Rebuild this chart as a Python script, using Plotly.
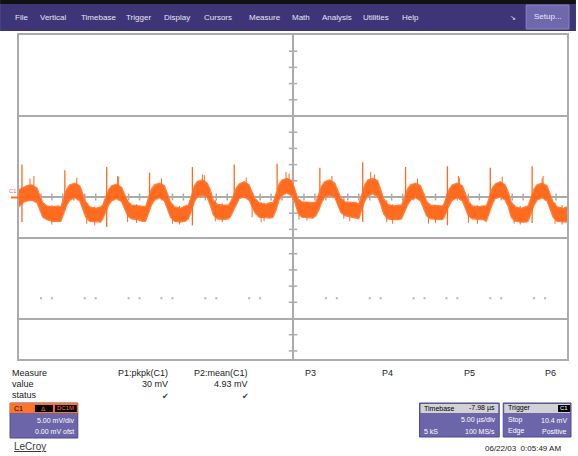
import plotly.graph_objects as go

# ---------------- data ----------------
# time axis in microseconds (5 us/div, 10 div), voltage in mV (5 mV/div, 8 div)
time_us = [-25.00,
    -24.55, -24.27, -23.82, -23.36, -23.09, -22.82, -22.45, -21.91, -21.45,
    -21.18, -20.91, -20.64, -20.36, -19.91, -19.45, -19.18, -18.91, -18.55, -18.00, -17.55,
    -17.36, -17.09, -16.82, -16.55, -16.09, -15.64, -15.36, -15.09, -14.73, -14.18, -13.73,
    -13.45, -13.18, -12.91, -12.64, -12.18, -11.73, -11.45, -11.18, -10.82, -10.27, -9.82,
    -9.55, -9.27, -9.00, -8.73, -8.27, -7.82, -7.55, -7.27, -6.91, -6.36, -5.91,
    -5.73, -5.45, -5.18, -4.91, -4.45, -4.00, -3.73, -3.45, -3.09, -2.55, -2.09,
    -1.82, -1.55, -1.27, -1.00, -0.55, -0.09, 0.18, 0.45, 0.82, 1.36, 1.82,
    2.09, 2.36, 2.64, 2.91, 3.36, 3.82, 4.09, 4.36, 4.73, 5.27, 5.73,
    6.00, 6.27, 6.55, 6.82, 7.27, 7.73, 8.00, 8.27, 8.64, 9.18, 9.64,
    9.91, 10.18, 10.45, 10.73, 11.18, 11.64, 11.91, 12.18, 12.55, 13.09, 13.55,
    13.73, 14.00, 14.27, 14.55, 15.00, 15.45, 15.73, 16.00, 16.36, 16.91, 17.36,
    17.64, 17.91, 18.18, 18.45, 18.91, 19.36, 19.64, 19.91, 20.27, 20.82, 21.27,
    21.45, 21.73, 22.00, 22.27, 22.73, 23.18, 23.45, 23.73, 24.09, 24.64, 25.00]

upper_mv = [0.9,
    1.2, 1.4, 1.5, 1.1, 0.2, -0.7, -1.1, -1.2, -1.1,
    -1.2, -0.1, 1.0, 1.5, 1.7, 1.4, 0.5, -0.6, -1.2, -1.4, -1.2,
    -1.0, 0.0, 0.9, 1.4, 1.6, 1.2, 0.4, -0.5, -1.0, -1.1, -1.1,
    -1.2, -0.1, 1.0, 1.5, 1.7, 1.4, 0.5, -0.6, -1.2, -1.4, -1.1,
    -1.0, 0.1, 1.4, 1.9, 2.1, 1.7, 0.9, -0.4, -0.9, -1.0, -1.0,
    -0.7, 0.1, 1.1, 1.6, 1.9, 1.5, 0.6, -0.2, -0.7, -0.9, -0.7,
    -0.7, 0.4, 1.6, 2.1, 2.3, 2.0, 1.0, -0.2, -0.6, -0.7, -0.7,
    -0.6, 0.4, 1.4, 1.9, 2.1, 1.7, 0.9, -0.1, -0.6, -0.7, -0.7,
    -0.9, 0.2, 1.5, 2.1, 2.3, 2.0, 1.0, -0.2, -0.9, -1.1, -1.0,
    -1.0, 0.0, 1.0, 1.5, 1.7, 1.4, 0.5, -0.5, -1.0, -1.1, -1.1,
    -1.0, 0.0, 1.0, 1.5, 1.7, 1.4, 0.5, -0.5, -1.1, -1.2, -1.1,
    -1.1, -0.1, 1.1, 1.6, 1.9, 1.5, 0.6, -0.6, -1.2, -1.4, -1.2,
    -1.1, 0.0, 1.0, 1.5, 1.7, 1.4, 0.5, -0.6, -1.2, -1.4, -1.2]

lower_mv = [-1.2,
    -0.6, -0.5, -0.4, -0.7, -1.6, -2.5, -2.8, -3.0, -3.0,
    -3.0, -2.0, -1.0, -0.4, -0.1, -0.5, -1.4, -2.5, -3.0, -3.1, -3.1,
    -2.7, -1.9, -1.0, -0.5, -0.2, -0.6, -1.5, -2.3, -2.7, -2.8, -3.0,
    -3.0, -2.0, -1.0, -0.4, -0.1, -0.5, -1.4, -2.5, -3.0, -3.1, -3.0,
    -2.7, -1.7, -0.6, 0.0, 0.2, -0.1, -1.0, -2.2, -2.7, -2.8, -2.7,
    -2.5, -1.7, -0.9, -0.2, 0.0, -0.4, -1.2, -2.0, -2.5, -2.6, -2.6,
    -2.5, -1.6, -0.4, 0.2, 0.5, 0.1, -0.7, -2.0, -2.5, -2.6, -2.6,
    -2.3, -1.6, -0.6, 0.0, 0.2, -0.1, -1.0, -1.9, -2.3, -2.5, -2.6,
    -2.7, -1.6, -0.5, 0.1, 0.4, 0.0, -0.9, -2.1, -2.7, -2.8, -2.8,
    -2.7, -1.9, -1.0, -0.4, -0.1, -0.5, -1.4, -2.3, -2.7, -2.8, -2.8,
    -2.7, -1.9, -1.0, -0.4, -0.1, -0.5, -1.4, -2.3, -2.7, -2.8, -2.8,
    -3.0, -2.0, -0.9, -0.2, 0.0, -0.4, -1.2, -2.5, -3.0, -3.1, -3.1,
    -3.0, -1.9, -1.0, -0.4, -0.1, -0.5, -1.4, -2.5, -3.0, -3.1, -3.1]

# switching spikes (one per cycle)
spike_t = [-24.73, -20.82, -17.00, -13.09, -9.18, -5.36, -1.45, 2.45, 6.36, 10.27, 14.09, 18.00, 21.82]
spike_hi = [4.0, 3.3, 3.7, 3.0, 3.7, 4.0, 4.1, 3.6, 4.3, 3.7, 3.8, 3.6, 3.8]
spike_lo = [-3.1, -1.6, -3.7, -0.5, -3.5, -1.2, 0.9, 0.5, -3.1, -1.2, -3.5, -0.4, -3.2]

# smaller noise glitches
glitch_t = [-18.82, -15.09, -11.00, -7.09, -3.73, -2.91, 0.55, 4.64, 8.55, 12.36, 16.00, 20.18, 23.91,
            -24.00, -16.00, -8.27, -0.64, 7.09, 15.09, 22.82,
            -23.64, -19.73, -15.91, -12.00, -8.09, -4.27, -0.36, 3.55, 7.45, 11.36, 15.18, 19.09, 22.73,
            -22.00, -18.09, -14.27, -10.36, -6.45, -2.64, 1.27, 5.18, 9.09, 13.00, 16.82, 20.73, 24.55]
glitch_hi = [-0.7, -0.4, -0.9, -0.4, 0.5, -0.7, -0.4, -0.1, -0.4, -1.0, -0.6, -1.0, -0.7,
             2.3, 2.6, 2.8, 3.1, 3.1, 2.6, 2.6,
             2.6, 2.4, 2.5, 2.3, 2.7, 2.4, 2.9, 2.6, 2.8, 2.3, 2.4, 2.5, 2.3,
             -1.0, -1.2, -0.9, -1.1, -0.8, -0.7, -0.6, -0.7, -0.9, -1.0, -1.0, -1.1, -1.0]
glitch_lo = [-3.3, -3.1, -3.3, -3.0, -2.5, -3.1, -2.8, -2.7, -3.1, -3.3, -3.2, -3.3, -3.3,
             0.9, 1.1, 1.4, 1.6, 1.6, 1.1, 1.1,
             1.0, 1.2, 1.0, 1.3, 1.5, 1.2, 1.5, 1.3, 1.6, 1.1, 1.2, 1.3, 1.2,
             -3.4, -3.5, -3.2, -3.4, -3.1, -3.0, -2.9, -3.0, -3.3, -3.2, -3.3, -3.4, -3.4]

# faint dotted reference row
dot_t = [-23, -22, -19, -18, -15, -14, -12, -11, -8, -7, -4, -3, 3, 4, 7, 8, 11, 12, 14, 15, 18, 19, 22, 23]
dot_level_mv = -12.5

# graticule
grid_mv = [10, 0, -5, -15]
vtick_mv = [18, 16, 14, 12, 8, 6, 4, 2, -2, -4, -7, -9, -11, -13, -17, -19]
htick_us = [v for v in range(-24, 25) if v != 0]
trigger_t = -19.9

menu_items = ["File", "Vertical", "Timebase", "Trigger", "Display", "Cursors",
              "Measure", "Math", "Analysis", "Utilities", "Help"]
meas_rows = ["Measure", "value", "status"]
meas_params = ["P1:pkpk(C1)", "P2:mean(C1)", "P3", "P4", "P5", "P6"]
meas_values = ["30 mV", "4.93 mV"]

# ---------------- layout helpers ----------------
W, H = 578, 456
L, R, T, B = 19, 569, 35, 359


def X(px):
    return (px - L) / (R - L)


def Y(py):
    return (B - py) / (B - T)


ORANGE = "#FF6A1C"
PURPLE = "#3D3577"
BOXP = "#6D65A9"
GRID = "#ABABAB"

fig = go.Figure()

# graticule ticks on centre lines
fig.add_trace(go.Scatter(x=[0] * len(vtick_mv), y=vtick_mv, mode="markers",
                         marker=dict(symbol="line-ew", size=6, line=dict(color=GRID, width=1.5)),
                         hoverinfo="skip", showlegend=False))
fig.add_trace(go.Scatter(x=htick_us, y=[0] * len(htick_us), mode="markers",
                         marker=dict(symbol="line-ns", size=5, line=dict(color=GRID, width=1.5)),
                         hoverinfo="skip", showlegend=False))
fig.add_trace(go.Scatter(x=dot_t, y=[dot_level_mv] * len(dot_t), mode="markers",
                         marker=dict(symbol="square", size=2, color="#B5B5B5"),
                         hoverinfo="skip", showlegend=False))

# trace envelope
fig.add_trace(go.Scatter(x=time_us, y=lower_mv, mode="lines",
                         line=dict(color="#FF8040", width=1.2),
                         hoverinfo="skip", showlegend=False))
fig.add_trace(go.Scatter(x=time_us, y=upper_mv, mode="lines", fill="tonexty",
                         fillcolor="rgba(255,100,20,0.95)",
                         line=dict(color="#FF8040", width=1.2),
                         hoverinfo="skip", showlegend=False))

sx, sy = [], []
for t, hi, lo in zip(spike_t, spike_hi, spike_lo):
    sx += [t, t, None]
    sy += [hi, lo, None]
fig.add_trace(go.Scatter(x=sx, y=sy, mode="lines", line=dict(color=ORANGE, width=1.3),
                         hoverinfo="skip", showlegend=False))
gx, gy = [], []
for t, hi, lo in zip(glitch_t, glitch_hi, glitch_lo):
    gx += [t, t, None]
    gy += [hi, lo, None]
fig.add_trace(go.Scatter(x=gx, y=gy, mode="lines", line=dict(color=ORANGE, width=1),
                         hoverinfo="skip", showlegend=False))

# trigger marker below the grid
fig.add_trace(go.Scatter(x=[trigger_t], y=[-20.6], mode="markers", cliponaxis=False,
                         marker=dict(symbol="triangle-up", size=6, color="#FF7A30"),
                         hoverinfo="skip", showlegend=False))

shapes = []
annos = []

# menu bar
shapes.append(dict(type="rect", xref="paper", yref="paper", x0=X(0), x1=X(578), y0=Y(4), y1=Y(0),
                   fillcolor="#111111", line=dict(width=0), layer="above"))
shapes.append(dict(type="rect", xref="paper", yref="paper", x0=X(0), x1=X(578), y0=Y(31), y1=Y(4),
                   fillcolor=PURPLE, line=dict(width=0), layer="above"))
shapes.append(dict(type="rect", xref="paper", yref="paper", x0=X(528), x1=X(571), y0=Y(29), y1=Y(5),
                   fillcolor="#6F68AC", line=dict(color="#8A84C0", width=1), layer="above"))
menu_x = [13, 38, 79, 124, 163, 203, 248, 291, 321, 362, 401]
for lab, px in zip(menu_items, menu_x):
    annos.append(dict(x=X(px), y=Y(18), xref="paper", yref="paper", text=lab, showarrow=False,
                      xanchor="left", yanchor="middle",
                      font=dict(family="Liberation Sans, Arial", size=8, color="#E8E6F4")))
annos.append(dict(x=X(515), y=Y(18), xref="paper", yref="paper", text="↘", showarrow=False,
                  xanchor="center",
                  font=dict(family="DejaVu Sans", size=7, color="#E8E6F4")))
annos.append(dict(x=X(549.5), y=Y(17), xref="paper", yref="paper", text="Setup...", showarrow=False,
                  xanchor="center",
                  font=dict(family="Liberation Sans, Arial", size=8, color="#ECEAF6")))

# channel ground marker
shapes.append(dict(type="line", xref="paper", yref="paper", x0=X(11), x1=X(19), y0=Y(197.5), y1=Y(197.5),
                   line=dict(color=ORANGE, width=2)))
annos.append(dict(x=X(13), y=Y(191), xref="paper", yref="paper", text="C1", showarrow=False,
                  xanchor="center",
                  font=dict(family="Liberation Sans, Arial", size=6, color=ORANGE)))

# measurement table
txt = dict(family="Liberation Sans, Arial", size=9, color="#1A1A1A")
for lab, py in zip(meas_rows, [373, 384, 395]):
    annos.append(dict(x=X(10), y=Y(py), xref="paper", yref="paper", text=lab, showarrow=False,
                      xanchor="left", yanchor="middle", font=txt))
for lab, px in zip(meas_params[:2], [171, 251]):
    annos.append(dict(x=X(px), y=Y(373), xref="paper", yref="paper", text=lab, showarrow=False,
                      xanchor="right", yanchor="middle", font=txt))
for lab, px in zip(meas_values, [171, 251]):
    annos.append(dict(x=X(px), y=Y(384), xref="paper", yref="paper", text=lab, showarrow=False,
                      xanchor="right", yanchor="middle", font=txt))
for px in [166, 246]:
    annos.append(dict(x=X(px), y=Y(396), xref="paper", yref="paper", text="✔", showarrow=False,
                      xanchor="center", yanchor="middle",
                      font=dict(family="DejaVu Sans", size=8, color="#333333")))
for lab, px in zip(meas_params[2:], [304, 381, 464, 545]):
    annos.append(dict(x=X(px), y=Y(373), xref="paper", yref="paper", text=lab, showarrow=False,
                      xanchor="left", yanchor="middle", font=txt))

# channel descriptor box
small_w = dict(family="Liberation Sans, Arial", size=7, color="#FFFFFF")
small_k = dict(family="Liberation Sans, Arial", size=7, color="#000000")
shapes.append(dict(type="rect", xref="paper", yref="paper", x0=X(10), x1=X(78), y0=Y(438), y1=Y(403),
                   fillcolor=BOXP, line=dict(color="#4E4890", width=1)))
shapes.append(dict(type="rect", xref="paper", yref="paper", x0=X(10), x1=X(78), y0=Y(413), y1=Y(403),
                   fillcolor="#FF7526", line=dict(width=0)))
shapes.append(dict(type="rect", xref="paper", yref="paper", x0=X(35), x1=X(53), y0=Y(412), y1=Y(405),
                   fillcolor="#000000", line=dict(width=0)))
shapes.append(dict(type="rect", xref="paper", yref="paper", x0=X(55), x1=X(77), y0=Y(412), y1=Y(405),
                   fillcolor="#000000", line=dict(width=0)))
annos += [
    dict(x=X(12), y=Y(408), text="C1", xanchor="left", font=dict(family="Liberation Sans, Arial", size=7, color="#000000")),
    dict(x=X(44), y=Y(408.5), text="Δ", xanchor="center", font=dict(family="DejaVu Sans", size=6, color="#FF7526")),
    dict(x=X(66), y=Y(408.5), text="DC1M", xanchor="center", font=dict(family="Liberation Sans, Arial", size=6, color="#FF7526")),
    dict(x=X(76), y=Y(420), text="5.00 mV/div", xanchor="right", font=small_w),
    dict(x=X(76), y=Y(431), text="0.00 mV ofst", xanchor="right", font=small_w),
]

# timebase / trigger boxes
for x0, x1 in [(421, 501), (505, 573)]:
    shapes.append(dict(type="rect", xref="paper", yref="paper", x0=X(x0), x1=X(x1), y0=Y(437), y1=Y(403),
                       fillcolor=BOXP, line=dict(color="#4E4890", width=1)))
    shapes.append(dict(type="rect", xref="paper", yref="paper", x0=X(x0 + 1), x1=X(x1 - 1), y0=Y(413), y1=Y(404),
                       fillcolor="#D2D2D6", line=dict(width=0)))
shapes.append(dict(type="rect", xref="paper", yref="paper", x0=X(560), x1=X(572), y0=Y(412), y1=Y(405),
                   fillcolor="#000000", line=dict(width=0)))
annos += [
    dict(x=X(423), y=Y(408.5), text="Timebase", xanchor="left", font=small_k),
    dict(x=X(499), y=Y(408.5), text="-7.98 µs", xanchor="right", font=small_k),
    dict(x=X(499), y=Y(420), text="5.00 µs/div", xanchor="right", font=small_w),
    dict(x=X(423), y=Y(431), text="5 kS", xanchor="left", font=small_w),
    dict(x=X(499), y=Y(431), text="100 MS/s", xanchor="right", font=small_w),
    dict(x=X(508), y=Y(408.5), text="Trigger", xanchor="left", font=small_k),
    dict(x=X(566), y=Y(408.5), text="C1", xanchor="center", font=dict(family="Liberation Sans, Arial", size=6, color="#FFFFFF")),
    dict(x=X(508), y=Y(420), text="Stop", xanchor="left", font=small_w),
    dict(x=X(571), y=Y(420), text="10.4 mV", xanchor="right", font=small_w),
    dict(x=X(508), y=Y(431), text="Edge", xanchor="left", font=small_w),
    dict(x=X(571), y=Y(431), text="Positive", xanchor="right", font=small_w),
    dict(x=X(565), y=Y(448), text="06/22/03  0:05:49 AM", xanchor="right",
         font=dict(family="Liberation Sans, Arial", size=8, color="#1A1A1A")),
    dict(x=X(12), y=Y(447), text="<u>LeCroy</u>", xanchor="left",
         font=dict(family="Liberation Sans, Arial", size=10, color="#3A3A3A")),
]
for a in annos:
    a.setdefault("xref", "paper")
    a.setdefault("yref", "paper")
    a.setdefault("showarrow", False)
    a.setdefault("yanchor", "middle")

fig.update_layout(
    width=W, height=H,
    margin=dict(l=L, r=W - R, t=T, b=H - B, pad=0),
    paper_bgcolor="white", plot_bgcolor="white",
    showlegend=False,
    shapes=shapes, annotations=annos,
    xaxis=dict(range=[-25, 25], tickvals=[0], showticklabels=False, ticks="",
               showgrid=True, gridcolor=GRID, gridwidth=2, zeroline=False,
               showline=True, mirror=True, linecolor=GRID, linewidth=2, fixedrange=True),
    yaxis=dict(range=[-20, 20], tickvals=grid_mv, showticklabels=False, ticks="",
               showgrid=True, gridcolor=GRID, gridwidth=2, zeroline=False,
               showline=True, mirror=True, linecolor=GRID, linewidth=2, fixedrange=True),
)

fig.write_html("out.html", config={"displayModeBar": False},
               post_script="document.body.style.margin='0';document.body.style.padding='0';"
                           "document.body.style.overflow='hidden';")
